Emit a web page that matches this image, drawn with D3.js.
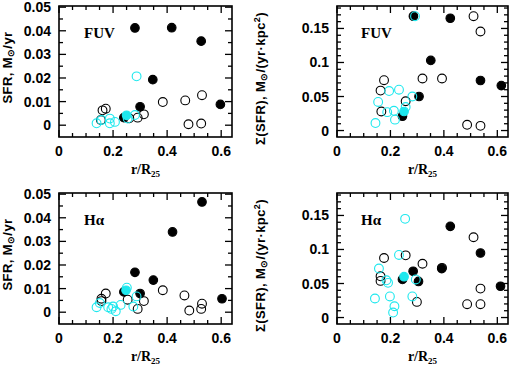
<!DOCTYPE html>
<html>
<head>
<meta charset="utf-8">
<script src="https://cdn.jsdelivr.net/npm/d3@7"></script>
<style>
  body { margin: 0; background: #fff; }
  svg { display: block; }
  text { fill: #000; }
</style>
</head>
<body>
<div id="chart"></div>
<script>
// values: [r/R25, value]
// top-left: FUV SFR (Msun/yr)
const fuvSfrBlackFilled = [[0.281, 0.0412], [0.417, 0.0413], [0.526, 0.0356], [0.347, 0.0193], [0.300, 0.0078], [0.597, 0.0088], [0.240, 0.0032]];
const fuvSfrBlackOpen = [[0.161, 0.0063], [0.173, 0.0070], [0.155, 0.0022], [0.384, 0.0098], [0.467, 0.0105], [0.529, 0.0127], [0.479, 0.0004], [0.526, 0.0007], [0.314, 0.0046], [0.291, 0.0032], [0.260, 0.0029]];
const fuvSfrCyanOpen = [[0.287, 0.0207], [0.139, 0.0008], [0.157, 0.0022], [0.188, 0.0028], [0.188, 0.0008], [0.207, 0.0014], [0.281, 0.0043], [0.254, 0.0028]];
const fuvSfrCyanFilled = [[0.250, 0.0042]];

// top-right: FUV SFR surface density
const fuvSigBlackFilled = [[0.286, 0.168], [0.424, 0.165], [0.351, 0.103], [0.307, 0.050], [0.537, 0.0735], [0.615, 0.066], [0.245, 0.021]];
const fuvSigBlackOpen = [[0.511, 0.168], [0.537, 0.1455], [0.320, 0.0765], [0.393, 0.0765], [0.176, 0.074], [0.163, 0.0587], [0.166, 0.028], [0.257, 0.043], [0.487, 0.0084], [0.537, 0.0069]];
const fuvSigCyanOpen = [[0.292, 0.168], [0.144, 0.011], [0.154, 0.042], [0.195, 0.058], [0.232, 0.060], [0.188, 0.027], [0.213, 0.029], [0.217, 0.016], [0.257, 0.0345], [0.282, 0.050]];
const fuvSigCyanFilled = [[0.251, 0.028]];

// bottom-left: Halpha SFR
const haSfrBlackFilled = [[0.529, 0.0467], [0.420, 0.0340], [0.281, 0.0169], [0.349, 0.0136], [0.300, 0.0079], [0.240, 0.0086], [0.603, 0.0057]];
const haSfrBlackOpen = [[0.173, 0.0079], [0.157, 0.0057], [0.157, 0.0047], [0.384, 0.0093], [0.464, 0.0071], [0.529, 0.0036], [0.526, 0.0014], [0.482, 0.0007], [0.314, 0.0047], [0.291, 0.0014], [0.254, 0.0053]];
const haSfrCyanOpen = [[0.251, 0.0104], [0.287, 0.0067], [0.275, 0.0024], [0.228, 0.0031], [0.200, 0.0024], [0.182, 0.0021], [0.194, 0.0014], [0.210, 0.0004], [0.139, 0.0021], [0.151, 0.0039]];
const haSfrCyanFilled = [[0.248, 0.0093]];

// bottom-right: Halpha SFR surface density
const haSigBlackFilled = [[0.424, 0.134], [0.537, 0.0948], [0.612, 0.046], [0.392, 0.072], [0.285, 0.068], [0.305, 0.053], [0.245, 0.056]];
const haSigBlackOpen = [[0.511, 0.118], [0.176, 0.0875], [0.257, 0.0914], [0.320, 0.079], [0.393, 0.073], [0.163, 0.0606], [0.163, 0.0538], [0.299, 0.023], [0.487, 0.0196], [0.537, 0.0196], [0.537, 0.0425]];
const haSigCyanOpen = [[0.255, 0.145], [0.232, 0.092], [0.157, 0.072], [0.185, 0.0547], [0.191, 0.051], [0.142, 0.028], [0.198, 0.031], [0.215, 0.0166], [0.210, 0.0073], [0.282, 0.031], [0.295, 0.056]];
const haSigCyanFilled = [[0.251, 0.060]];

const rTicks = [0, 0.2, 0.4, 0.6];
const sfrTicks = [0, 0.01, 0.02, 0.03, 0.04, 0.05];
const sigTicks = [0, 0.05, 0.1, 0.15];

const cyan = "#1ee8ee";

const svg = d3.select("#chart").append("svg")
    .attr("width", 514)
    .attr("height", 366)
    .style("background", "#fff");

const cols = [{ x0: 59, x1: 232 }, { x0: 337, x1: 508 }];
const rows = [{ y0: 6, y1: 137 }, { y0: 193, y1: 324 }];

const panels = [
  { col: 0, row: 0, yDom: [-0.005, 0.0505], yTicks: sfrTicks, yMinor: 0.005, yFmt: d => d === 0 ? "0" : d.toFixed(2),
    tag: "FUV", kind: "sfr", sets: [fuvSfrBlackOpen, fuvSfrBlackFilled, fuvSfrCyanOpen, fuvSfrCyanFilled] },
  { col: 1, row: 0, yDom: [-0.0095, 0.183], yTicks: sigTicks, yMinor: 0.01, yFmt: d => d === 0 ? "0" : String(d),
    tag: "FUV", kind: "sig", sets: [fuvSigBlackOpen, fuvSigBlackFilled, fuvSigCyanOpen, fuvSigCyanFilled] },
  { col: 0, row: 1, yDom: [-0.005, 0.0505], yTicks: sfrTicks, yMinor: 0.005, yFmt: d => d === 0 ? "0" : d.toFixed(2),
    tag: "Hα", kind: "sfr", sets: [haSfrBlackOpen, haSfrBlackFilled, haSfrCyanOpen, haSfrCyanFilled] },
  { col: 1, row: 1, yDom: [-0.0095, 0.183], yTicks: sigTicks, yMinor: 0.01, yFmt: d => d === 0 ? "0" : String(d),
    tag: "Hα", kind: "sig", sets: [haSigBlackOpen, haSigBlackFilled, haSigCyanOpen, haSigCyanFilled] }
];

// marker styles: black open, black filled, cyan open, cyan filled
const styles = [
  { fill: "none", stroke: "#000", r: 4.4 },
  { fill: "#000", stroke: "#000", r: 4.3 },
  { fill: "none", stroke: cyan, r: 4.4 },
  { fill: cyan, stroke: cyan, r: 4.3 }
];

function range(a, b, step) {
  var out = [];
  for (var v = a; v <= b + 1e-9; v += step) out.push(+v.toFixed(6));
  return out;
}

panels.forEach(p => {
  const c = cols[p.col], rw = rows[p.row];
  const x = d3.scaleLinear().domain([0, 0.64]).range([c.x0, c.x1]);
  const y = d3.scaleLinear().domain(p.yDom).range([rw.y1, rw.y0]);
  const g = svg.append("g");

  // ticks on all four sides, pointing in
  const xMinor = range(0, 0.64, 0.05);
  const yMinorVals = range(0, p.yDom[1], p.yMinor);
  xMinor.forEach(v => {
    const major = Math.abs(v / 0.2 - Math.round(v / 0.2)) < 1e-6;
    const len = major ? 7 : 4;
    g.append("line").attr("x1", x(v)).attr("x2", x(v)).attr("y1", rw.y1).attr("y2", rw.y1 - len);
    g.append("line").attr("x1", x(v)).attr("x2", x(v)).attr("y1", rw.y0).attr("y2", rw.y0 + len);
  });
  yMinorVals.forEach(v => {
    const major = p.yTicks.some(t => Math.abs(t - v) < 1e-7);
    const len = major ? 7 : 4;
    g.append("line").attr("y1", y(v)).attr("y2", y(v)).attr("x1", c.x0).attr("x2", c.x0 + len);
    g.append("line").attr("y1", y(v)).attr("y2", y(v)).attr("x1", c.x1).attr("x2", c.x1 - len);
  });
  g.selectAll("line").attr("stroke", "#000").attr("stroke-width", 1.3);

  // points
  p.sets.forEach((set, i) => {
    const s = styles[i];
    g.selectAll(null)
      .data(set)
      .enter()
      .append("circle")
      .attr("cx", d => x(d[0]))
      .attr("cy", d => y(d[1]))
      .attr("r", s.r)
      .attr("fill", s.fill)
      .attr("stroke", s.stroke)
      .attr("stroke-width", 1.1);
  });

  // frame
  g.append("rect")
    .attr("x", c.x0).attr("y", rw.y0)
    .attr("width", c.x1 - c.x0).attr("height", rw.y1 - rw.y0)
    .attr("fill", "none").attr("stroke", "#000").attr("stroke-width", 1.6);

  // tick labels
  g.selectAll(null).data(rTicks).enter().append("text")
    .attr("x", d => x(d)).attr("y", rw.y1 + 19)
    .attr("text-anchor", "middle")
    .style("font", "bold 14px 'Liberation Sans', Arial, sans-serif")
    .text(d => d === 0 ? "0" : d.toFixed(1));
  g.selectAll(null).data(p.yTicks).enter().append("text")
    .attr("x", c.x0 - 8).attr("y", d => y(d) + 5)
    .attr("text-anchor", "end")
    .style("font", "bold 14px 'Liberation Sans', Arial, sans-serif")
    .text(p.yFmt);

  // tag
  g.append("text")
    .attr("x", c.x0 + (p.kind === "sfr" ? 25 : 24)).attr("y", rw.y0 + 32)
    .style("font", "bold 15px 'Liberation Serif', 'DejaVu Serif', serif")
    .text(p.tag);

  // x axis title
  const xt = g.append("text")
    .attr("x", (c.x0 + c.x1) / 2).attr("y", rw.y1 + 37)
    .attr("text-anchor", "middle")
    .style("font", "bold 14px 'Liberation Serif', serif");
  xt.append("tspan").text("r/R");
  xt.append("tspan").attr("font-size", "9px").attr("dy", 3).text("25");

  // y axis title
  const cy = (rw.y0 + rw.y1) / 2;
  const lx = p.col === 0 ? 12 : 265;
  const yt = g.append("text")
    .attr("transform", `translate(${lx},${p.kind === "sfr" ? cy - 4 : cy + 7})rotate(-90)`)
    .attr("text-anchor", "middle")
    .style("font", "bold 13px 'Liberation Sans', Arial, sans-serif")
    .style("letter-spacing", "0.4px");
  if (p.kind === "sfr") {
    yt.append("tspan").text("SFR,  M");
    yt.append("tspan").attr("font-size", "9px").attr("dy", 2).text("⊙");
    yt.append("tspan").attr("dy", -2).text("/yr");
  } else {
    yt.append("tspan").text("Σ(SFR),  M");
    yt.append("tspan").attr("font-size", "9px").attr("dy", 2).text("⊙");
    yt.append("tspan").attr("dy", -2).text("/(yr·kpc");
    yt.append("tspan").attr("font-size", "9px").attr("dy", -5).text("2");
    yt.append("tspan").attr("dy", 5).text(")");
  }
});
</script>
</body>
</html>
